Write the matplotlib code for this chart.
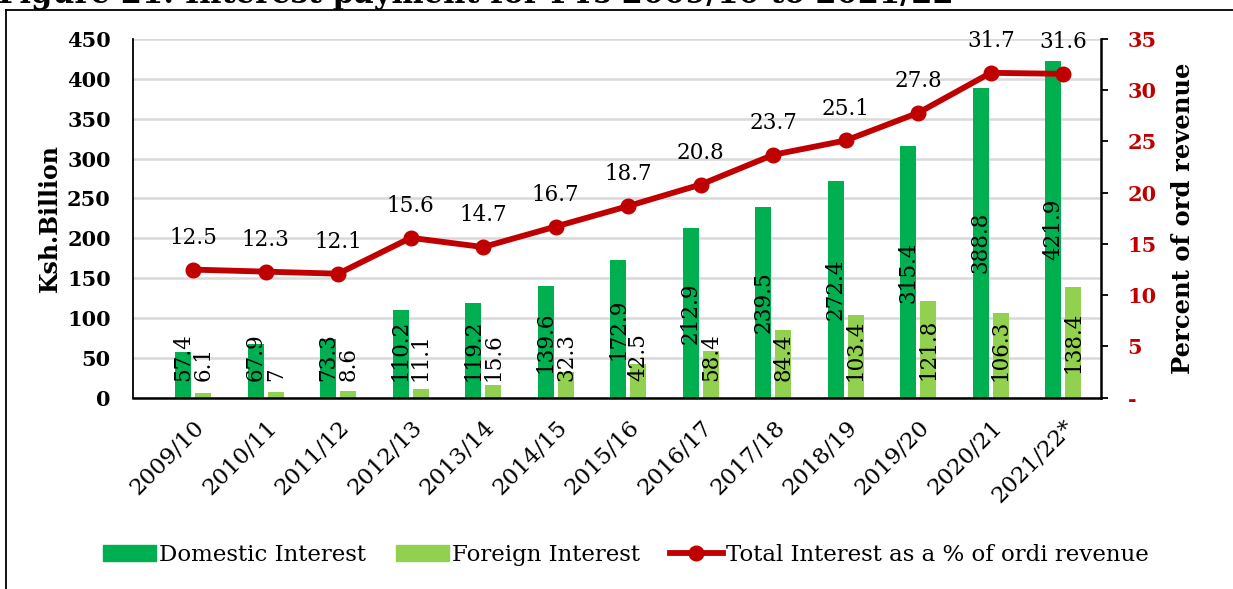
import numpy as np
import matplotlib
matplotlib.use("Agg")
import matplotlib.pyplot as plt
from matplotlib.patches import Patch
from matplotlib.lines import Line2D
from matplotlib.ticker import FuncFormatter, MultipleLocator

plt.rcParams['font.family'] = ['DejaVu Serif']

# data
years = ["2009/10", "2010/11", "2011/12", "2012/13", "2013/14", "2014/15", "2015/16",
         "2016/17", "2017/18", "2018/19", "2019/20", "2020/21", "2021/22*"]
domestic = [57.4, 67.9, 73.3, 110.2, 119.2, 139.6, 172.9, 212.9, 239.5, 272.4, 315.4, 388.8, 421.9]
foreign = [6.1, 7, 8.6, 11.1, 15.6, 32.3, 42.5, 58.4, 84.4, 103.4, 121.8, 106.3, 138.4]
pct_revenue = [12.5, 12.3, 12.1, 15.6, 14.7, 16.7, 18.7, 20.8, 23.7, 25.1, 27.8, 31.7, 31.6]

dom_color = "#00B050"
for_color = "#92D050"
line_color = "#C00000"

fig = plt.figure(figsize=(12.33, 5.89), dpi=100)
ax = fig.add_axes([133/1233, 1 - 397.7/589, (1101 - 133)/1233, (397.7 - 39)/589])

x = np.arange(len(years))
w = 0.22
ax.bar(x - 0.14, domestic, w, color=dom_color, zorder=2)
ax.bar(x + 0.14, foreign, w, color=for_color, zorder=2)

ax.set_xlim(-0.83, 12.52)
ax.set_ylim(0, 450)
ax.yaxis.set_major_locator(MultipleLocator(50))
ax.grid(axis='y', color='#D9D9D9', linewidth=1.8)
ax.set_axisbelow(True)
ax.spines['top'].set_visible(False)
ax.spines['right'].set_visible(False)
ax.spines['left'].set_linewidth(1.3)
ax.spines['bottom'].set_linewidth(1.8)
ax.tick_params(axis='y', length=0, pad=16, labelsize=15)
for lab in ax.get_yticklabels():
    lab.set_fontweight('bold')
ax.set_xticks(x)
ax.set_xticklabels(years, rotation=45, ha='right', rotation_mode='anchor', fontsize=16.5)
ax.tick_params(axis='x', length=0, pad=13)
ax.set_ylabel("Ksh.Billion", fontsize=17, fontweight='bold', labelpad=4)

# value labels on bars, centred then kept above the floor
bar_labels = []
for xs, vals in ((x - 0.14, domestic), (x + 0.14, foreign)):
    for xi, v in zip(xs, vals):
        t = ax.text(xi, v / 2, f"{v:g}", rotation=90, ha='center', va='center',
                    fontsize=15.5, zorder=4)
        bar_labels.append(t)

ax2 = ax.twinx()
ax2.plot(x, pct_revenue, color=line_color, linewidth=4.2, marker='o', markersize=10.5, zorder=5)
ax2.set_ylim(0, 35)
ax2.yaxis.set_major_locator(MultipleLocator(5))
ax2.yaxis.set_major_formatter(FuncFormatter(lambda v, p: "-" if v == 0 else f"{v:.0f}"))
ax2.tick_params(axis='y', length=5, width=1.3, pad=14, labelsize=15, labelcolor=line_color)
for lab in ax2.get_yticklabels():
    lab.set_fontweight('bold')
for s in ('top', 'left', 'bottom'):
    ax2.spines[s].set_visible(False)
ax2.spines['right'].set_linewidth(1.8)
ax2.set_ylabel("Percent of ord revenue", fontsize=17.5, fontweight='bold', labelpad=10)
for xi, v in zip(x, pct_revenue):
    ax2.annotate(f"{v:g}", (xi, v), xytext=(0, 23), textcoords='offset points',
                 ha='center', va='center', fontsize=15.5)

fig.canvas.draw()
renderer = fig.canvas.get_renderer()
floor = ax.transData.transform((0, 0))[1] + 17
inv = ax.transData.inverted()
for t in bar_labels:
    bb = t.get_window_extent(renderer)
    if bb.y0 < floor:
        xd, yd = t.get_position()
        px = ax.transData.transform((xd, yd))
        _, new_y = inv.transform((px[0], px[1] + floor - bb.y0))
        t.set_position((xd, new_y))

handles = [Patch(color=dom_color), Patch(color=for_color),
           Line2D([], [], color=line_color, linewidth=4.2, marker='o', markersize=10.5)]
fig.legend(handles, ["Domestic Interest", "Foreign Interest", "Total Interest as a % of ordi revenue"],
           loc='center', bbox_to_anchor=(626/1233, 1 - 555/589), ncol=3, frameon=False,
           fontsize=16.5, handlelength=2.3, handleheight=0.65, handletextpad=0.15, columnspacing=1.3)

# page frame and clipped caption above it
fig.add_artist(Line2D([6/1233, 6/1233], [0, 1 - 9.5/589], transform=fig.transFigure, color='black', linewidth=1.3))
fig.add_artist(Line2D([6/1233, 1], [1 - 9.5/589, 1 - 9.5/589], transform=fig.transFigure, color='black', linewidth=1.3))
fig.text(-0.002, 1 - 2.5/589, "Figure 21: Interest payment for FYs 2009/10 to 2021/22",
         fontsize=22, fontweight='bold', va='baseline', ha='left')

fig.savefig("out.png", dpi=100)
